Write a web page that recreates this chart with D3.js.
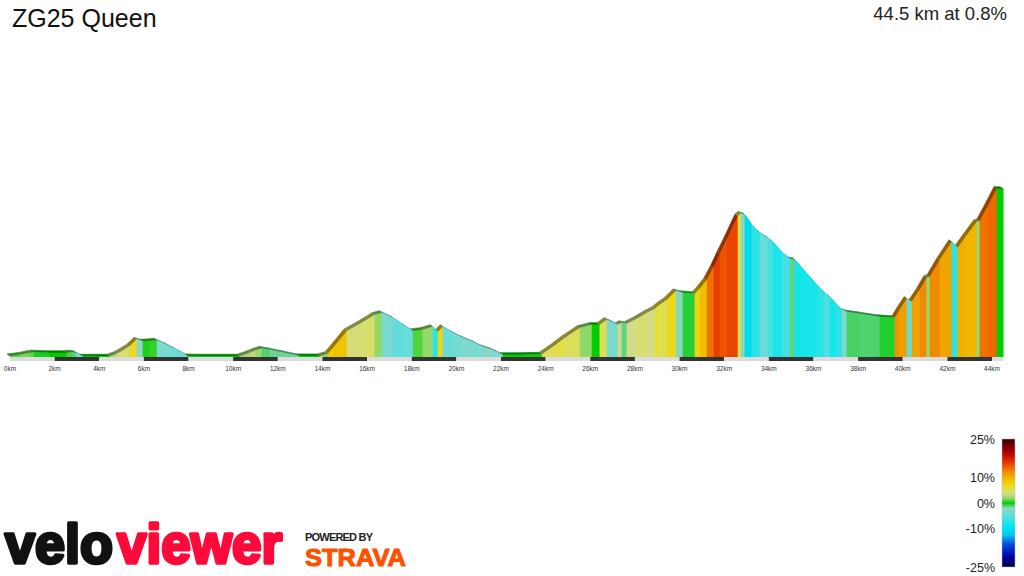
<!DOCTYPE html>
<html>
<head>
<meta charset="utf-8">
<script src="https://cdn.jsdelivr.net/npm/d3@7/dist/d3.min.js"></script>
<style>
  body { margin: 0; background: #fff; }
  svg { display: block; font-family: "Liberation Sans", Arial, sans-serif; }
</style>
</head>
<body>
<div id="chart"></div>
<script>
// profile points
var distKm = [0.00, 0.45, 0.90, 1.08, 1.79, 2.55, 2.78, 2.96, 3.27, 4.48,
  4.79, 5.02, 5.38, 5.69, 5.96, 6.27, 6.59, 7.03, 7.39, 7.71,
  7.97, 8.51, 10.30, 10.75, 11.02, 11.29, 11.65, 12.32, 12.99, 13.89,
  14.25, 14.52, 14.78, 15.10, 15.68, 16.13, 16.35, 16.67, 17.16, 17.70,
  18.06, 18.50, 18.95, 19.18, 19.40, 19.85, 20.30, 20.83, 21.19, 21.59,
  21.82, 22.09, 22.85, 23.84, 24.33, 24.87, 25.54, 26.08, 26.43, 26.75,
  26.97, 27.24, 27.42, 27.64, 28.09, 28.54, 28.90, 29.12, 29.44, 29.84,
  30.15, 30.69, 30.91, 31.23, 31.54, 31.81, 32.12, 32.39, 32.62, 32.75,
  32.93, 33.24, 33.60, 33.96, 34.18, 34.59, 34.95, 35.17, 35.48, 35.84,
  36.20, 36.51, 36.74, 37.01, 37.28, 37.50, 38.08, 38.53, 38.98, 39.65,
  39.87, 40.19, 40.41, 40.77, 41.08, 41.22, 41.67, 42.20, 42.47, 42.79,
  43.32, 43.46, 43.82, 44.22, 44.50];

var elevM = [6, 10, 16, 18, 16, 16, 18, 16, 5, 5,
  13, 22, 38, 59, 53, 54, 56, 42, 29, 16,
  6, 5, 5, 16, 24, 30, 26, 16, 6, 6,
  13, 35, 58, 86, 109, 128, 138, 144, 128, 102,
  86, 90, 99, 83, 99, 80, 64, 48, 35, 26,
  19, 10, 10, 11, 35, 64, 96, 106, 106, 122,
  115, 106, 112, 109, 125, 144, 157, 170, 186, 214,
  208, 205, 221, 250, 291, 333, 378, 419, 454, 462,
  458, 426, 400, 384, 371, 339, 317, 314, 288, 259,
  230, 208, 195, 173, 154, 147, 141, 136, 131, 128,
  154, 189, 179, 218, 256, 259, 314, 371, 352, 384,
  435, 438, 486, 541, 541];

var tickKm = [0, 2, 4, 6, 8, 10, 12, 14, 16, 18, 20, 22,
  24, 26, 28, 30, 32, 34, 36, 38, 40, 42, 44];

// grade colour scale
var gradeStops = [-25, -21, -16, -12.5, -9, -5, -2, 0, 1.5, 3.5, 6, 8, 10, 12, 14, 16.5, 20, 25];
var gradeColors = ["#000040", "#0000aa", "#0050e0", "#00c8f0", "#00e8ee", "#5edddd", "#8cd8c4",
  "#00cc00", "#80d860", "#d0dc88", "#e8e030", "#f0d000", "#f0b000", "#f09000",
  "#f06000", "#e02800", "#aa0000", "#3a0000"];
var legendTicks = [25, 10, 0, -10, -25];

var totalKm = 44.5;
var avgGrade = 0.8;

function drawProfile() {
  var w = 1024;
  var h = 576;
  var baseY = 357;

  var svg = d3.select("#chart")
    .append("svg")
    .attr("width", w)
    .attr("height", h);

  var xScale = d3.scaleLinear()
    .domain([0, totalKm])
    .range([10, 1003.2]);

  var yScale = d3.scaleLinear()
    .domain([0, 550])
    .range([358, 358 - 550 / 3.2]);

  var color = d3.scaleLinear()
    .domain(gradeStops)
    .range(gradeColors)
    .clamp(true);

  // segments between points
  var segs = d3.range(distKm.length - 1).map(function (i) {
    var dd = (distKm[i + 1] - distKm[i]) * 1000;
    return {
      x0: xScale(distKm[i]), x1: xScale(distKm[i + 1]),
      y0: yScale(elevM[i]), y1: yScale(elevM[i + 1]),
      grade: (elevM[i + 1] - elevM[i]) / dd * 100
    };
  });

  // 3d top edge, drawn under the stripes
  var dx = -3, dy = -2.2;
  svg.append("g")
    .selectAll("path")
    .data(segs)
    .enter()
    .append("path")
    .attr("d", function (d) {
      return "M" + d.x0 + "," + d.y0 + "L" + d.x1 + "," + d.y1 +
        "L" + (d.x1 + dx) + "," + (d.y1 + dy) + "L" + (d.x0 + dx) + "," + (d.y0 + dy) + "Z";
    })
    .attr("fill", function (d) { return d3.color(color(d.grade)).darker(1.4); })
    .attr("stroke", function (d) { return d3.color(color(d.grade)).darker(1.4); })
    .attr("stroke-width", 0.6);

  // coloured stripes
  svg.append("g")
    .selectAll("path")
    .data(segs)
    .enter()
    .append("path")
    .attr("d", function (d) {
      return "M" + d.x0 + "," + baseY + "L" + d.x0 + "," + d.y0 +
        "L" + d.x1 + "," + d.y1 + "L" + d.x1 + "," + baseY + "Z";
    })
    .attr("fill", function (d) { return color(d.grade); })
    .attr("stroke", function (d) { return color(d.grade); })
    .attr("stroke-width", 0.6);

  // km bar under the profile
  var bars = d3.range(0, totalKm, 2).map(function (k, i) {
    return { a: k, b: Math.min(k + 2, totalKm), dark: i % 2 == 1 };
  });
  svg.append("g")
    .selectAll("rect")
    .data(bars)
    .enter()
    .append("rect")
    .attr("x", function (d) { return xScale(d.a); })
    .attr("y", baseY)
    .attr("width", function (d) { return xScale(d.b) - xScale(d.a); })
    .attr("height", 4)
    .attr("fill", function (d) { return d.dark ? "#333" : "#dcdcdc"; });

  svg.append("g")
    .selectAll("text")
    .data(tickKm)
    .enter()
    .append("text")
    .attr("x", function (d) { return xScale(d); })
    .attr("y", 371)
    .attr("text-anchor", "middle")
    .attr("font-size", "6.5px")
    .attr("fill", "#333")
    .text(function (d) { return d + "km"; });

  // titles
  svg.append("text")
    .attr("x", 12)
    .attr("y", 27)
    .attr("font-size", "25px")
    .attr("fill", "#111")
    .text("ZG25 Queen");

  svg.append("text")
    .attr("x", 1007)
    .attr("y", 19.5)
    .attr("text-anchor", "end")
    .attr("font-size", "18.5px")
    .attr("fill", "#222")
    .text(totalKm + " km at " + avgGrade + "%");

  // legend (stops must go top -> bottom)
  var legY = d3.scaleLinear().domain([-25, 25]).range([567, 439]);
  var stops = gradeStops.map(function (g, i) {
    return { g: g, c: gradeColors[i] };
  }).reverse();
  var grad = svg.append("defs")
    .append("linearGradient")
    .attr("id", "gradeGrad")
    .attr("x1", 0).attr("y1", 0).attr("x2", 0).attr("y2", 1);
  grad.selectAll("stop")
    .data(stops)
    .enter()
    .append("stop")
    .attr("offset", function (d) { return (25 - d.g) / 50; })
    .attr("stop-color", function (d) { return d.c; });

  svg.append("rect")
    .attr("x", 1002)
    .attr("y", legY(25))
    .attr("width", 13)
    .attr("height", legY(-25) - legY(25))
    .attr("fill", "url(#gradeGrad)")
    .attr("stroke", "#bbb")
    .attr("stroke-width", 0.5);

  svg.append("g")
    .selectAll("text")
    .data(legendTicks)
    .enter()
    .append("text")
    .attr("x", 995)
    .attr("y", function (d) { return legY(d); })
    .attr("dy", "0.36em")
    .attr("text-anchor", "end")
    .attr("font-size", "12.5px")
    .attr("fill", "#222")
    .text(function (d) { return d + "%"; });

  // logos
  var logo = svg.append("g")
    .attr("font-weight", "bold")
    .attr("stroke-linejoin", "round");
  logo.append("text")
    .attr("x", 5)
    .attr("y", 563)
    .attr("font-size", "56px")
    .attr("textLength", 108)
    .attr("lengthAdjust", "spacingAndGlyphs")
    .attr("fill", "#111")
    .attr("stroke", "#111")
    .attr("stroke-width", 3.5)
    .text("velo");
  logo.append("text")
    .attr("x", 117)
    .attr("y", 563)
    .attr("font-size", "56px")
    .attr("textLength", 165)
    .attr("lengthAdjust", "spacingAndGlyphs")
    .attr("fill", "#fc0a3a")
    .attr("stroke", "#fc0a3a")
    .attr("stroke-width", 3.5)
    .text("viewer");
  logo.append("text")
    .attr("x", 305)
    .attr("y", 541)
    .attr("font-size", "11px")
    .attr("textLength", 68)
    .attr("fill", "#222")
    .text("POWERED BY");
  logo.append("text")
    .attr("x", 305)
    .attr("y", 566)
    .attr("font-size", "24px")
    .attr("textLength", 101)
    .attr("lengthAdjust", "spacingAndGlyphs")
    .attr("fill", "#fc5200")
    .attr("stroke", "#fc5200")
    .attr("stroke-width", 1)
    .text("STRAVA");
}

window.onload = function () {
  drawProfile();
};
</script>
</body>
</html>
